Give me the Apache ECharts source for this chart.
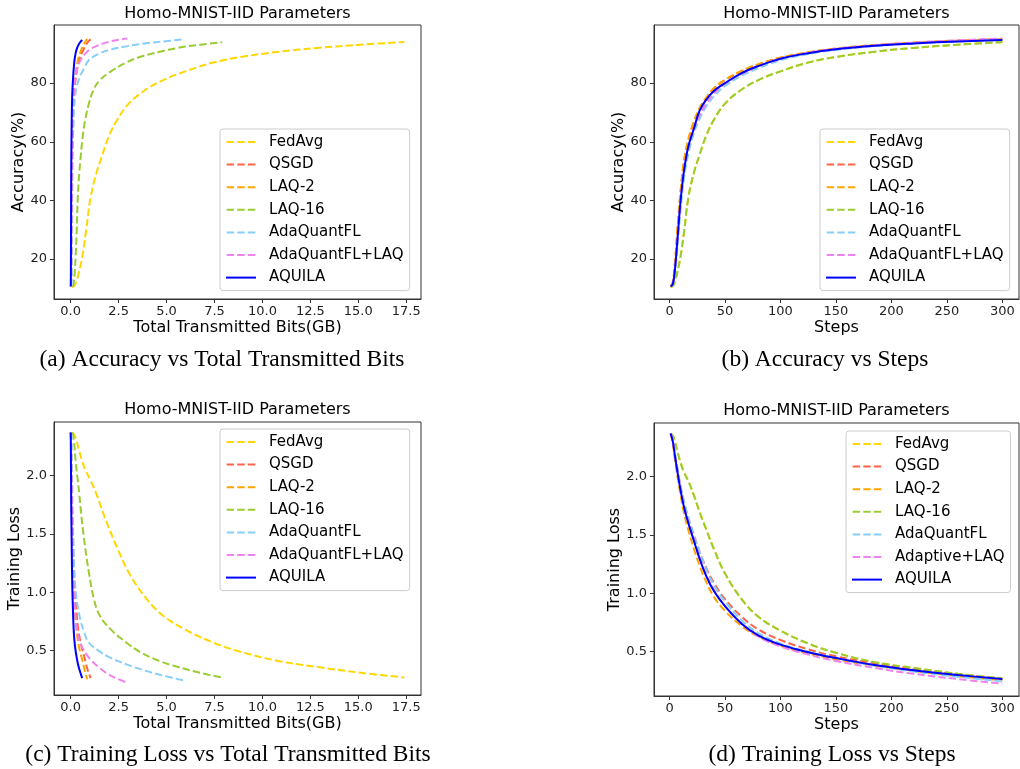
<!DOCTYPE html>
<html>
<head>
<meta charset="utf-8">
<script src="https://cdn.jsdelivr.net/npm/echarts@6/dist/echarts.min.js"></script>
<style>
  html, body { margin: 0; padding: 0; background: #fff; }
  #chart { width: 1020px; height: 769px; }
</style>
</head>
<body>
<div id="chart"></div>
<script>
// sample steps shared by every curve
var steps = [1, 3, 5, 7, 10, 13, 17, 22, 27, 33, 40, 50, 65, 80, 100, 125, 150, 185, 220, 260, 300];

// test accuracy (%) at each step
var accFedAvg = [10.6, 10.8, 12.5, 15.5, 21, 29, 41, 49.5, 55.5, 62, 67.5, 73, 77.8, 81, 84, 87, 88.9, 90.7, 92, 93.1, 94.0];
var accQSGD   = [10.7, 12, 19, 29, 43, 53, 60.5, 66.5, 71, 74.7, 78, 81, 84, 86.3, 88.6, 90.4, 91.7, 92.9, 93.7, 94.4, 94.9];
var accLAQ2   = [10.7, 12.2, 19.5, 29.5, 43.5, 53.5, 61, 67, 71.5, 75, 78.3, 81.2, 84.2, 86.4, 88.7, 90.5, 91.8, 93, 93.8, 94.5, 95.0];
var accLAQ16  = [10.6, 10.8, 12.5, 15.5, 21, 29, 41, 49.5, 55.5, 62, 67.5, 73, 77.8, 81, 84, 87, 88.9, 90.7, 92, 93.1, 93.9];
var accAda    = [10.7, 11.4, 15.5, 23.5, 37, 47.5, 56, 63, 67.8, 72, 75.5, 79, 82.5, 85, 87.8, 89.9, 91.3, 92.6, 93.5, 94.2, 94.9];
var accAdaLAQ = [10.7, 11.6, 17, 26, 40, 50.5, 58, 64.5, 69, 73, 76.5, 79.8, 83.2, 85.7, 88.3, 90.3, 91.7, 92.9, 93.8, 94.6, 95.2];
var accAquila = [10.7, 11.5, 17, 26, 40, 50, 58.5, 64.5, 70.5, 74.3, 77.3, 80, 83.4, 85.8, 88.3, 90.2, 91.5, 92.7, 93.5, 94.2, 94.7];

// training loss at each step
var lossFedAvg = [2.37, 2.35, 2.3, 2.22, 2.12, 2.04, 1.96, 1.84, 1.7, 1.55, 1.38, 1.17, 0.95, 0.8, 0.68, 0.57, 0.49, 0.41, 0.36, 0.31, 0.27];
var lossQSGD   = [2.37, 2.3, 2.18, 2.07, 1.91, 1.78, 1.64, 1.5, 1.36, 1.22, 1.09, 0.95, 0.8, 0.69, 0.6, 0.52, 0.46, 0.4, 0.35, 0.305, 0.265];
var lossLAQ2   = [2.37, 2.28, 2.14, 2.01, 1.84, 1.69, 1.54, 1.38, 1.24, 1.1, 0.97, 0.85, 0.72, 0.63, 0.55, 0.485, 0.435, 0.38, 0.335, 0.29, 0.255];
var lossLAQ16  = [2.37, 2.35, 2.3, 2.22, 2.12, 2.04, 1.96, 1.84, 1.7, 1.55, 1.38, 1.17, 0.95, 0.8, 0.68, 0.57, 0.49, 0.41, 0.36, 0.31, 0.27];
var lossAda    = [2.37, 2.31, 2.19, 2.08, 1.92, 1.79, 1.65, 1.5, 1.36, 1.21, 1.07, 0.93, 0.77, 0.66, 0.57, 0.5, 0.445, 0.38, 0.33, 0.285, 0.245];
var lossAdaLAQ = [2.37, 2.3, 2.17, 2.05, 1.89, 1.75, 1.61, 1.46, 1.31, 1.16, 1.03, 0.89, 0.74, 0.63, 0.545, 0.475, 0.42, 0.36, 0.31, 0.265, 0.225];
var lossAquila = [2.37, 2.3, 2.17, 2.05, 1.88, 1.74, 1.6, 1.45, 1.3, 1.15, 1.02, 0.89, 0.74, 0.64, 0.56, 0.495, 0.445, 0.385, 0.34, 0.3, 0.265];

// total transmitted bits (GB) at each step
var bitsFedAvg = [0.06, 0.18, 0.3, 0.43, 0.61, 0.79, 1.04, 1.35, 1.65, 2.0, 2.43, 3.03, 3.93, 4.82, 5.98, 7.43, 8.87, 10.88, 12.88, 15.15, 17.4];
var bitsQSGD   = [0.005, 0.015, 0.025, 0.035, 0.05, 0.065, 0.085, 0.11, 0.135, 0.165, 0.2, 0.25, 0.32, 0.39, 0.48, 0.59, 0.69, 0.78, 0.86, 0.95, 1.04];
var bitsLAQ2   = [0.004, 0.013, 0.022, 0.03, 0.043, 0.056, 0.073, 0.095, 0.117, 0.143, 0.173, 0.215, 0.275, 0.335, 0.41, 0.5, 0.58, 0.66, 0.73, 0.8, 0.87];
var bitsLAQ16  = [0.09, 0.13, 0.17, 0.21, 0.26, 0.31, 0.37, 0.45, 0.53, 0.63, 0.76, 0.95, 1.2, 1.52, 2.1, 2.9, 3.6, 4.65, 5.6, 6.75, 7.9];
var bitsAda    = [0.02, 0.04, 0.05, 0.06, 0.08, 0.09, 0.11, 0.13, 0.15, 0.18, 0.23, 0.32, 0.5, 0.7, 0.94, 1.45, 2.0, 2.95, 3.85, 4.85, 5.9];
var bitsAdaLAQ = [0.01, 0.02, 0.03, 0.04, 0.05, 0.06, 0.07, 0.09, 0.1, 0.12, 0.15, 0.2, 0.28, 0.38, 0.55, 0.8, 1.05, 1.45, 1.85, 2.35, 2.95];
var bitsAquila = [0.002, 0.007, 0.011, 0.016, 0.023, 0.029, 0.038, 0.049, 0.06, 0.073, 0.088, 0.11, 0.14, 0.17, 0.21, 0.26, 0.31, 0.38, 0.45, 0.53, 0.6];

var bitsTicks = [0, 2.5, 5, 7.5, 10, 12.5, 15, 17.5];
var stepTicks = [0, 50, 100, 150, 200, 250, 300];
var accTicks = [20, 40, 60, 80];
var lossTicks = [0.5, 1.0, 1.5, 2.0];

var namesA = ['FedAvg', 'QSGD', 'LAQ-2', 'LAQ-16', 'AdaQuantFL', 'AdaQuantFL+LAQ', 'AQUILA'];
var namesD = ['FedAvg', 'QSGD', 'LAQ-2', 'LAQ-16', 'AdaQuantFL', 'Adaptive+LAQ', 'AQUILA'];
var colors = ['#FFD700', '#FF6347', '#FFA500', '#9ACD32', '#87CEFA', '#EE82EE', '#0000FF'];

var FONT = 'DejaVu Sans';
var DASH_ICON = 'path://M0,0h7.4v2h-7.4z M10.6,0h7.4v2h-7.4z M21.2,0h7.4v2h-7.4z';
var SOLID_ICON = 'path://M0,0h30v2h-30z';

var chart = echarts.init(document.getElementById('chart'));

var grids = [
    {left: 54, top: 25, width: 367, height: 274},
    {left: 654, top: 25, width: 365, height: 274},
    {left: 54, top: 422, width: 367, height: 273},
    {left: 654, top: 423, width: 365, height: 273}
];
grids.forEach(function (g) { g.show = true; g.borderColor = '#333'; g.borderWidth = 1; });

function xAxis(idx, name, min, max, ticks, digits) {
    return {
        type: 'value', gridIndex: idx, min: min, max: max,
        name: name, nameLocation: 'middle', nameGap: 21,
        nameTextStyle: {fontFamily: FONT, fontSize: 16, color: '#000'},
        axisLine: {show: true, onZero: false, lineStyle: {color: '#333', width: 1}},
        axisTick: {show: true, length: 4, customValues: ticks, lineStyle: {color: '#333'}},
        axisLabel: {
            customValues: ticks, margin: 6, fontFamily: FONT, fontSize: 13, color: '#222',
            formatter: function (v) { return digits ? v.toFixed(digits) : String(v); }
        },
        splitLine: {show: false}
    };
}

function yAxis(idx, name, min, max, ticks, digits, gap) {
    return {
        type: 'value', gridIndex: idx, min: min, max: max,
        name: name, nameLocation: 'middle', nameGap: gap, nameRotate: 90,
        nameTextStyle: {fontFamily: FONT, fontSize: 16, color: '#000'},
        axisLine: {show: true, onZero: false, lineStyle: {color: '#333', width: 1}},
        axisTick: {show: true, length: 4, customValues: ticks, lineStyle: {color: '#333'}},
        axisLabel: {
            customValues: ticks, margin: 7, fontFamily: FONT, fontSize: 13, color: '#222',
            formatter: function (v) { return digits ? v.toFixed(digits) : String(v); }
        },
        splitLine: {show: false}
    };
}

function legend(left, top, names) {
    return {
        orient: 'vertical', left: left, top: top, selectedMode: false,
        data: names.map(function (n) { return {name: n, icon: n === 'AQUILA' ? SOLID_ICON : DASH_ICON}; }),
        itemWidth: 30, itemHeight: 2, itemGap: 6.6,
        padding: [5, 6, 5, 6],
        backgroundColor: '#fff', borderColor: '#ccc', borderWidth: 1, borderRadius: 3,
        textStyle: {fontFamily: FONT, fontSize: 15, color: '#000', lineHeight: 16, padding: [0, 0, 0, 8]}
    };
}

var accByName = [accFedAvg, accQSGD, accLAQ2, accLAQ16, accAda, accAdaLAQ, accAquila];
var lossByName = [lossFedAvg, lossQSGD, lossLAQ2, lossLAQ16, lossAda, lossAdaLAQ, lossAquila];
var bitsByName = [bitsFedAvg, bitsQSGD, bitsLAQ2, bitsLAQ16, bitsAda, bitsAdaLAQ, bitsAquila];

function pairs(xs, ys) {
    var out = [];
    for (var i = 0; i < xs.length; i++) out.push([xs[i], ys[i]]);
    return out;
}

var series = [];
function addPanel(idx, names, xsList, ysList) {
    for (var k = 0; k < names.length; k++) {
        var solid = names[k] === 'AQUILA';
        series.push({
            type: 'line', name: names[k], xAxisIndex: idx, yAxisIndex: idx,
            data: pairs(xsList[k], ysList[k]),
            symbol: 'none', smooth: 0.4,
            color: colors[k],
            lineStyle: {color: colors[k], width: 2, type: solid ? 'solid' : [7.4, 3.2]},
            z: 2 + k * 0.01
        });
    }
}
var stepList = [steps, steps, steps, steps, steps, steps, steps];
addPanel(0, namesA, bitsByName, accByName);
addPanel(1, namesA, stepList, accByName);
addPanel(2, namesA, bitsByName, lossByName);
addPanel(3, namesD, stepList, lossByName);

function txt(x, y, s, font) {
    return {type: 'text', x: x, y: y, silent: true,
        style: {text: s, font: font, fill: '#000', align: 'center', verticalAlign: 'middle'}};
}
var titleFont = '16px "DejaVu Sans"';
var capFont = '23.5px "Liberation Serif"';

chart.setOption({
    animation: false,
    grid: grids,
    xAxis: [
        xAxis(0, 'Total Transmitted Bits(GB)', -0.87, 18.27, bitsTicks, 1),
        xAxis(1, 'Steps', -14, 315, stepTicks, 0),
        xAxis(2, 'Total Transmitted Bits(GB)', -0.87, 18.27, bitsTicks, 1),
        xAxis(3, 'Steps', -14, 315, stepTicks, 0)
    ],
    yAxis: [
        yAxis(0, 'Accuracy(%)', 6.4, 99.8, accTicks, 0, 27),
        yAxis(1, 'Accuracy(%)', 6.4, 99.8, accTicks, 0, 27),
        yAxis(2, 'Training Loss', 0.12, 2.46, lossTicks, 1, 30),
        yAxis(3, 'Training Loss', 0.12, 2.46, lossTicks, 1, 30)
    ],
    legend: [
        legend(220, 129, namesA),
        legend(820, 129, namesA),
        legend(220, 429, namesA),
        legend(846, 431, namesD)
    ],
    series: series,
    graphic: [
        txt(237.5, 14, 'Homo-MNIST-IID Parameters', titleFont),
        txt(836.5, 14, 'Homo-MNIST-IID Parameters', titleFont),
        txt(237.5, 410, 'Homo-MNIST-IID Parameters', titleFont),
        txt(836.5, 411, 'Homo-MNIST-IID Parameters', titleFont),
        txt(222, 360, '(a) Accuracy vs Total Transmitted Bits', capFont),
        txt(825, 360, '(b) Accuracy vs Steps', capFont),
        txt(228, 755, '(c) Training Loss vs Total Transmitted Bits', capFont),
        txt(832, 755, '(d) Training Loss vs Steps', capFont)
    ]
});
</script>
</body>
</html>
